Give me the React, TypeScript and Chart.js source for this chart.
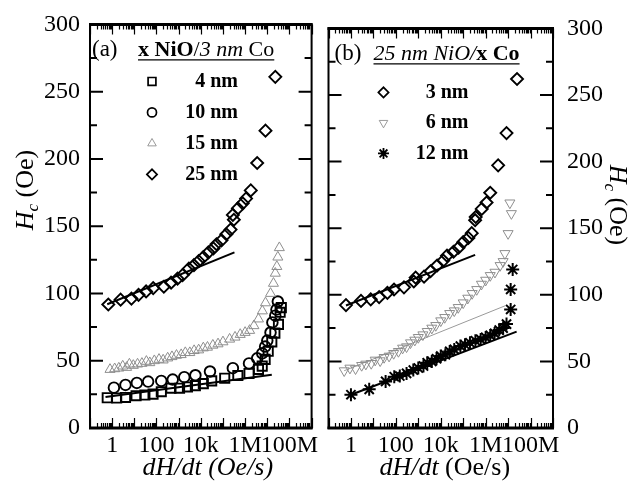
import React, { useEffect, useRef } from 'react';
import { Chart, registerables } from 'chart.js';
import { drawPoint } from 'chart.js/helpers';

Chart.register(...registerables);

// ---------- data: [dH/dt (Oe/s), Hc (Oe)] ----------
// Panel (a): x NiO / 3 nm Co
const a4nm: number[][] = [
  [0.6, 22.5], [1.6, 22.3], [4, 22.7], [12, 24], [30, 24.5], [70, 25.2], [165, 27], [450, 29.6],
  [1100, 29.6], [2500, 30.5], [5700, 31.5], [13000, 33], [31000, 35], [120000, 37], [470000, 39],
  [1.5e6, 40.5], [4e6, 43.5], [5.9e6, 46], [8e6, 51], [1.1e7, 57], [1.6e7, 64], [2.2e7, 70.5],
  [3.2e7, 77], [3.8e7, 86], [4.3e7, 89.5],
];
const a10nm: number[][] = [
  [1.2, 30], [4, 32], [13, 33.5], [42, 34.5], [165, 35], [540, 36], [1800, 37.8], [5700, 39.2],
  [26000, 42], [280000, 44.5], [1.5e6, 48], [3.5e6, 51.8], [5.9e6, 55.5], [8e6, 60.5], [1e7, 65],
  [1.4e7, 71], [1.7e7, 78.5], [2.3e7, 83.5], [2.6e7, 88], [3e7, 94],
];
const a15nm: number[][] = [
  [0.8, 43.5], [1.3, 44], [2, 44.5], [3, 46], [4.5, 45], [6, 47.5], [9, 46.5], [14, 47.5], [22, 48],
  [35, 49.5], [50, 48.5], [80, 50], [130, 51], [200, 50.5], [320, 52], [500, 53], [800, 54],
  [1300, 54.5], [2000, 56], [3200, 56], [5000, 57.5], [8000, 58], [13000, 59.5], [20000, 60],
  [35000, 61.5], [60000, 62.5], [100000, 64], [200000, 66], [350000, 67.5], [600000, 69.5],
  [1e6, 71], [1.6e6, 72.5], [2.5e6, 76], [4e6, 81], [6e6, 87], [8.3e6, 93], [1.4e7, 100],
  [1.9e7, 107.5], [2.3e7, 115], [2.7e7, 120], [3e7, 127], [3.5e7, 134],
];
const a25nm: number[][] = [
  [0.67, 91.8], [2.4, 95.4], [7.4, 96.2], [15.5, 99], [34, 101.5], [71, 104], [215, 105], [455, 108],
  [890, 111], [1500, 113.6], [2900, 118.5], [4900, 121], [8000, 124], [13000, 127], [22000, 130.6],
  [37000, 133.5], [51000, 136.6], [86000, 139.5], [142000, 144], [220000, 147.5], [280000, 158.4],
  [310000, 154.8], [470000, 163.3], [780000, 167], [1.1e6, 170.5], [1.8e6, 176.6], [3.5e6, 197],
  [8.3e6, 221], [2.3e7, 261],
];
const aFit4nm: number[][] = [[0.5, 23], [1.6e7, 39.5]];
const aFit25nm: number[][] = [[0.6, 92], [3.3e5, 130.5]];

// Panel (b): 25 nm NiO / x Co
const b3nm: number[][] = [
  [0.6, 92.3], [2.8, 95.4], [7.6, 96.6], [18, 98.3], [42, 101.5], [83, 104], [230, 105.6], [630, 110],
  [760, 112.9], [1800, 113.6], [3500, 117.7], [6900, 122], [13000, 125.7], [19000, 129.4],
  [37000, 132.3], [62000, 135.4], [100000, 139.5], [170000, 142.7], [240000, 146.3], [340000, 156],
  [360000, 158.4], [670000, 164.5], [1.1e6, 169.3], [1.6e6, 176.6], [3.6e6, 197.2], [8.5e6, 221.4],
  [2.5e7, 262],
];
const b6nm: number[][] = [
  [0.5, 43], [0.9, 45], [1.6, 44.5], [3, 47], [4.6, 48], [8, 48.5], [12, 51], [20, 50.5], [30, 53],
  [50, 54], [80, 56], [130, 57.5], [200, 60], [300, 61], [450, 64], [700, 66], [1000, 68], [1600, 70],
  [2500, 72.5], [4000, 75], [6000, 77], [10000, 80.5], [15000, 83], [25000, 86], [40000, 88],
  [60000, 90.5], [100000, 94], [160000, 97.5], [250000, 101], [400000, 104], [650000, 108],
  [1e6, 111], [1.6e6, 114.5], [2.6e6, 117], [4.4e6, 122], [6e6, 125], [7.2e6, 131], [1e7, 146],
  [1.4e7, 161], [1.2e7, 169],
];
const b12nm: number[][] = [
  [1, 25], [6.5, 29], [35, 35], [85, 38.5], [150, 39], [300, 41], [600, 43.5], [1000, 45],
  [1700, 46.5], [2500, 49], [4000, 50], [6500, 52], [10000, 54], [16000, 55], [25000, 57.5],
  [40000, 59], [75000, 61.5], [120000, 62.5], [200000, 64], [350000, 65.5], [600000, 66.5],
  [1e6, 68], [1.6e6, 69.5], [2.5e6, 71], [4e6, 73.5], [6e6, 75], [8.5e6, 78], [1.3e7, 89],
  [1.3e7, 104], [1.6e7, 119],
];
const bFit3nm: number[][] = [[0.6, 92], [3.4e5, 130]];
const bFit6nm: number[][] = [[0.5, 43], [8e6, 92]];
const bFit12nm: number[][] = [[1, 25], [2.4e7, 72.4]];

// ---------- axes ----------
const xTickValues = [0.1, 1, 10, 100, 1e3, 1e4, 1e5, 1e6, 1e7, 1e8, 1e9];
const xTickLabels = ['', '1', '', '100', '', '10k', '', '1M', '', '100M', ''];
const yTickValues = [0, 50, 100, 150, 200, 250, 300];
const X_MIN = 0.1, X_MAX = 1e9, Y_MIN = 0, Y_MAX = 300;

const legendA = ['4 nm', '10 nm', '15 nm', '25 nm'];
const legendB = ['3 nm', '6 nm', '12 nm'];

const FONT = "'Liberation Serif', 'Times New Roman', serif";
const GRAY = '#8e8e8e';

type Seg = { text: string; italic?: boolean; bold?: boolean; size: number; dy?: number };

const fontOf = (s: Seg) => `${s.italic ? 'italic ' : ''}${s.bold ? 'bold ' : ''}${s.size}px ${FONT}`;
function segsWidth(ctx: CanvasRenderingContext2D, segs: Seg[]) {
  let w = 0;
  for (const s of segs) { ctx.font = fontOf(s); w += ctx.measureText(s.text).width; }
  return w;
}
function drawSegs(ctx: CanvasRenderingContext2D, segs: Seg[], x: number, y: number) {
  let cx = x;
  for (const s of segs) {
    ctx.font = fontOf(s);
    ctx.fillText(s.text, cx, y + (s.dy || 0));
    cx += ctx.measureText(s.text).width;
  }
  return cx;
}

const pts = (a: number[][]) => a.map(([x, y]) => ({ x, y }));

type Marker = { pointStyle: string; radius: number; rotation?: number; color: string; width: number };
const M = {
  square: { pointStyle: 'rect', radius: 6.5, color: '#000', width: 1.9 },
  circle: { pointStyle: 'circle', radius: 5.3, color: '#000', width: 1.9 },
  triUp: { pointStyle: 'triangle', radius: 5.8, color: GRAY, width: 1 },
  diamond: { pointStyle: 'rectRot', radius: 6, color: '#000', width: 1.9 },
  triDown: { pointStyle: 'triangle', radius: 5.8, rotation: 180, color: GRAY, width: 1 },
  star: { pointStyle: 'star', radius: 6.5, color: '#000', width: 2 },
} as Record<string, Marker>;

function scatterDs(data: number[][], m: Marker) {
  return {
    data: pts(data), showLine: false, pointStyle: m.pointStyle, pointRadius: m.radius,
    pointRotation: m.rotation || 0, pointBorderColor: m.color, pointBackgroundColor: 'rgba(0,0,0,0)',
    pointBorderWidth: m.width, borderColor: m.color,
  };
}
function fitDs(data: number[][], color: string, width: number) {
  return { data: pts(data), showLine: true, pointRadius: 0, borderColor: color, borderWidth: width, fill: false };
}

const decorPlugin = {
  id: 'decor',
  afterDraw(chart: any, _a: any, opts: any) {
    const { ctx, chartArea, scales } = chart;
    const { left, right, top, bottom } = chartArea;
    const xs = scales.x, ys = scales.y;
    ctx.save();
    ctx.strokeStyle = '#000';
    ctx.fillStyle = '#000';
    // x ticks (inward, top and bottom)
    ctx.lineWidth = 1.2;
    ctx.beginPath();
    for (let d = -1; d <= 9; d++) {
      for (let m = 1; m <= 9; m++) {
        const v = m * Math.pow(10, d);
        if (v < X_MIN || v > X_MAX) continue;
        const px = Math.round(xs.getPixelForValue(v)) + 0.5;
        const len = m === 1 ? 10 : 5;
        ctx.moveTo(px, bottom); ctx.lineTo(px, bottom - len);
        ctx.moveTo(px, top); ctx.lineTo(px, top + len);
      }
    }
    ctx.stroke();
    // y ticks every 25, both sides
    ctx.lineWidth = 2;
    ctx.beginPath();
    for (let v = Y_MIN; v <= Y_MAX; v += 25) {
      const py = ys.getPixelForValue(v);
      const len = v % 50 === 0 ? 13 : 7;
      ctx.moveTo(left, py); ctx.lineTo(left + len, py);
      ctx.moveTo(right, py); ctx.lineTo(right - len, py);
    }
    ctx.stroke();
    // frame
    ctx.lineWidth = 2;
    ctx.strokeRect(left, top, right - left, bottom - top);
    ctx.lineWidth = 3;
    ctx.beginPath();
    ctx.moveTo(left - 1, bottom); ctx.lineTo(right + 1, bottom);
    ctx.moveTo(left - 1, top); ctx.lineTo(right + 1, top);
    ctx.stroke();

    // header
    ctx.textBaseline = 'alphabetic';
    ctx.textAlign = 'left';
    const hb = top + 32;
    drawSegs(ctx, opts.tag, left + opts.tagDx, hb);
    const hx = left + opts.headDx;
    const hEnd = drawSegs(ctx, opts.head, hx, hb);
    ctx.lineWidth = 1.4;
    ctx.beginPath(); ctx.moveTo(hx, hb + 3.5); ctx.lineTo(hEnd, hb + 3.5); ctx.stroke();

    // legend entries
    opts.entries.forEach((e: { label: string; m: Marker }, i: number) => {
      const cy = top + opts.rowTop + i * opts.rowGap;
      ctx.save();
      ctx.strokeStyle = e.m.color;
      ctx.fillStyle = 'rgba(0,0,0,0)';
      ctx.lineWidth = e.m.width * 0.9;
      drawPoint(ctx, { pointStyle: e.m.pointStyle, radius: e.m.radius * 0.85, rotation: e.m.rotation || 0, borderWidth: e.m.width } as any, left + opts.markDx, cy);
      ctx.restore();
      ctx.fillStyle = '#000';
      ctx.font = `bold 20px ${FONT}`;
      ctx.textAlign = 'right';
      ctx.textBaseline = 'middle';
      ctx.fillText(e.label, left + opts.textRight, cy);
    });

    // x title
    ctx.textAlign = 'left';
    ctx.textBaseline = 'alphabetic';
    const xw = segsWidth(ctx, opts.xTitle);
    drawSegs(ctx, opts.xTitle, (left + right) / 2 + opts.xTitleDx - xw / 2, 475);

    // y title
    const yt: Seg[] = [
      { text: 'H', italic: true, size: 26 },
      { text: 'c', italic: true, size: 17, dy: 5 },
      { text: ' (Oe)', size: 26 },
    ];
    const yw = segsWidth(ctx, yt);
    ctx.save();
    ctx.translate(opts.yTitleX, opts.yTitleY);
    ctx.rotate(opts.yTitleRot);
    drawSegs(ctx, yt, -yw / 2, 0);
    ctx.restore();
    ctx.restore();
  },
};

function makeConfig(panel: 'a' | 'b'): any {
  const isA = panel === 'a';
  const datasets = isA
    ? [
        scatterDs(a15nm, M.triUp),
        scatterDs(a4nm, M.square),
        scatterDs(a10nm, M.circle),
        scatterDs(a25nm, M.diamond),
        fitDs(aFit4nm, '#000', 2),
        fitDs(aFit25nm, '#000', 2),
      ]
    : [
        scatterDs(b6nm, M.triDown),
        fitDs(bFit6nm, '#9a9a9a', 1),
        scatterDs(b12nm, M.star),
        scatterDs(b3nm, M.diamond),
        fitDs(bFit3nm, '#000', 2),
        fitDs(bFit12nm, '#000', 2),
      ];
  const tickFont = { family: FONT, size: 24 };
  return {
    type: 'scatter',
    data: { datasets },
    plugins: [decorPlugin],
    options: {
      animation: false,
      responsive: false,
      devicePixelRatio: 1,
      layout: { padding: isA ? { left: 0, right: 4, top: 15, bottom: 0 } : { left: 7, right: 0, top: 15, bottom: 0 } },
      scales: {
        x: {
          type: 'logarithmic', min: X_MIN, max: X_MAX, position: 'bottom',
          grid: { display: false, drawTicks: false }, border: { display: false },
          afterBuildTicks: (s: any) => { s.ticks = xTickValues.map((v) => ({ value: v })); },
          afterFit: (s: any) => { s.height = 60; },
          ticks: { autoSkip: false, maxRotation: 0, minRotation: 0, padding: 3, color: '#000', font: tickFont,
            callback: (_v: any, i: number) => xTickLabels[i] },
        },
        y: {
          type: 'linear', min: Y_MIN, max: Y_MAX, position: isA ? 'left' : 'right',
          grid: { display: false, drawTicks: false }, border: { display: false },
          afterBuildTicks: (s: any) => { s.ticks = yTickValues.map((v) => ({ value: v })); },
          afterFit: (s: any) => { s.width = isA ? 90 : 87; },
          ticks: { padding: isA ? 10 : 14, color: '#000', font: tickFont, callback: (v: any) => String(v) },
        },
      },
      plugins: {
        legend: { display: false },
        tooltip: { enabled: false },
        decor: isA
          ? {
              tag: [{ text: '(a)', size: 23 }], tagDx: 2,
              head: [
                { text: 'x NiO', bold: true, size: 22 },
                { text: '/', size: 22 },
                { text: '3 nm', italic: true, size: 22 },
                { text: ' Co', size: 22 },
              ],
              headDx: 48,
              entries: [
                { label: legendA[0], m: M.square },
                { label: legendA[1], m: M.circle },
                { label: legendA[2], m: M.triUp },
                { label: legendA[3], m: M.diamond },
              ],
              rowTop: 57, rowGap: 31, markDx: 62, textRight: 148,
              xTitle: [{ text: 'dH/dt (Oe/s)', italic: true, size: 26 }], xTitleDx: 7,
              yTitleX: 33, yTitleY: 190, yTitleRot: -Math.PI / 2,
            }
          : {
              tag: [{ text: '(b)', size: 23 }], tagDx: 6,
              head: [
                { text: '25 nm NiO/', italic: true, size: 22 },
                { text: 'x Co', bold: true, size: 22 },
              ],
              headDx: 45,
              entries: [
                { label: legendB[0], m: M.diamond },
                { label: legendB[1], m: M.triDown },
                { label: legendB[2], m: M.star },
              ],
              rowTop: 64, rowGap: 30.5, markDx: 55, textRight: 140,
              xTitle: [{ text: 'dH/dt', italic: true, size: 26 }, { text: ' (Oe/s)', size: 26 }], xTitleDx: 4,
              yTitleX: 290, yTitleY: 205, yTitleRot: Math.PI / 2,
            },
      },
    },
  };
}

function Panel({ panel, left }: { panel: 'a' | 'b'; left: number }) {
  const ref = useRef<HTMLCanvasElement>(null);
  useEffect(() => {
    const chart = new Chart(ref.current as HTMLCanvasElement, makeConfig(panel));
    return () => chart.destroy();
  }, [panel]);
  return (
    <canvas
      ref={ref}
      width={320}
      height={488}
      style={{ position: 'absolute', left, top: 0, width: 320, height: 488, display: 'block' }}
    />
  );
}

export default function App() {
  return (
    <div style={{ position: 'absolute', left: 0, top: 0, width: 640, height: 488, background: '#fff', overflow: 'hidden' }}>
      <Panel panel="a" left={0} />
      <Panel panel="b" left={320} />
    </div>
  );
}
